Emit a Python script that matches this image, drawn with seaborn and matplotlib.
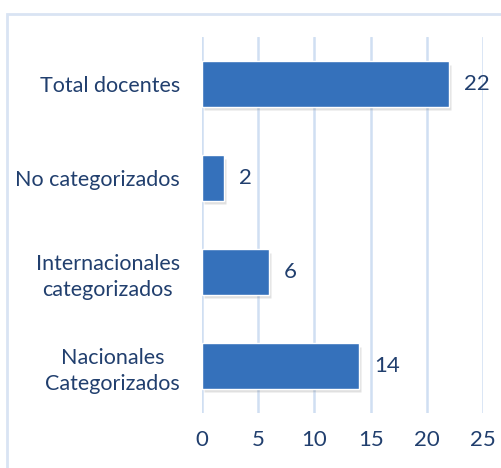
import numpy as np
import pandas as pd
import seaborn as sns
import matplotlib.pyplot as plt
from matplotlib.patches import Rectangle

categorias = ['Total docentes', 'No categorizados', 'Internacionales\ncategorizados', 'Nacionales\nCategorizados']
valores = [22, 2, 6, 14]
ticks_x = [0, 5, 10, 15, 20, 25]

df = pd.DataFrame({'categoria': categorias, 'valor': valores})

sns.set_theme(style='white')
plt.rcParams['font.family'] = ['Lato', 'DejaVu Sans']

TXT = '#213f6e'
GRID = '#d0dff2'
BAR = '#3571bb'

fig = plt.figure(figsize=(5.02, 4.68), dpi=100)
ax = fig.add_axes([0.4024, 0.1175, 0.5598, 0.8034])

# marco del grafico
fig.patches.append(Rectangle((7 / 502, -0.05), 1.1, 1 - 14 / 468 + 0.05,
                             transform=fig.transFigure, fill=False,
                             edgecolor='#d9e4f3', linewidth=2, zorder=0))

# sombra
for i, v in enumerate(valores):
    ax.barh(i + 0.04, v, height=0.48, left=0.15, color='#000000', alpha=0.12, zorder=1)

sns.barplot(data=df, y='categoria', x='valor', orient='h', color=BAR,
            width=0.48, saturation=1, ax=ax, zorder=2)

for i, v in enumerate(valores):
    ax.text(v + 1.3, i, str(v), va='center', ha='left', fontsize=16, color=TXT)

ax.set_xlim(0, 25)
ax.set_ylim(3.5, -0.5)
ax.set_xticks(ticks_x)
ax.xaxis.grid(True, color=GRID, linewidth=1.8)
ax.set_axisbelow(True)
for s in ax.spines.values():
    s.set_visible(False)
ax.tick_params(axis='x', length=0, labelsize=16, labelcolor=TXT, pad=12)
ax.tick_params(axis='y', length=0, labelsize=15.5, labelcolor=TXT, pad=16)
ax.set_xlabel('')
ax.set_ylabel('')
for lbl in ax.get_yticklabels():
    lbl.set_multialignment('center')
    lbl.set_linespacing(1.35)

fig.savefig('out.png', dpi=100)
